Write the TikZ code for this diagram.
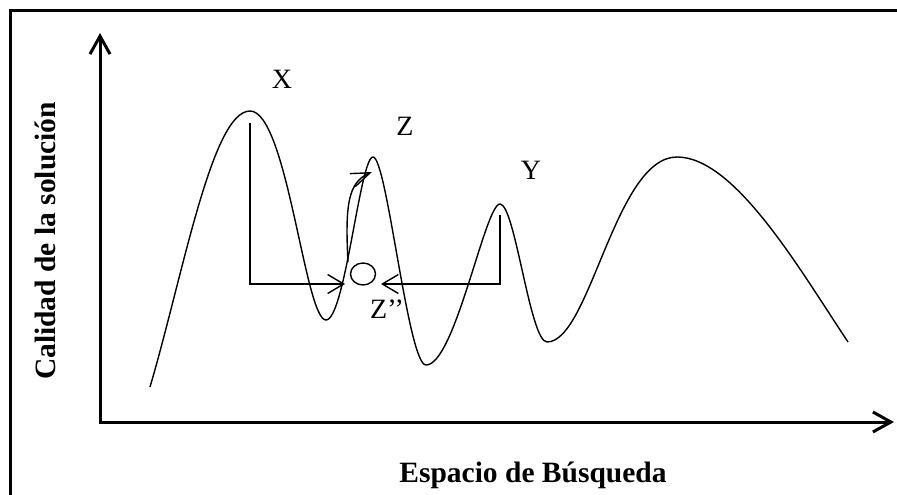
\documentclass[tikz,border=0pt]{standalone}
\usepackage{fontspec}
\setmainfont{Liberation Serif}
\usetikzlibrary{arrows.meta,shapes.geometric}
\begin{document}
\begin{tikzpicture}[x=1pt,y=-1pt,
  frameline/.style={line width=2.5pt},
  axisline/.style={line width=3pt,-{Straight Barb[length=18pt,width=20pt]}},
  thinline/.style={line width=1.4pt},
  barb/.style={thinline,-{Straight Barb[length=16pt,width=19pt]}},
  ptlabel/.style={font=\fontsize{28}{30}\selectfont,inner sep=0pt},
  axlabel/.style={font=\fontsize{29.5}{31}\selectfont\bfseries,inner sep=0pt}]
\useasboundingbox (0,0) rectangle (897,495);
% frame
\coordinate (fTR) at (897,10.5);
\coordinate (fTL) at (10.5,10.5);
\coordinate (fBL) at (10.5,495);
\draw[frameline] (fTR) -- (fTL) -- (fBL);
% axes
\coordinate (O) at (100,422);
\coordinate (Ytip) at (100,33);
\coordinate (Xtip) at (894,422);
\draw[axisline] (O) -- (Ytip);
\draw[axisline] ([xshift=-1.5pt]O) -- (Xtip);
% axis labels
\node[axlabel,rotate=90,anchor=base] (ylab) at (55,241) {Calidad de la solución};
\node[axlabel,anchor=base] (xlab) at (533,482) {Espacio de Búsqueda};
% landscape
\coordinate (s0) at (150,387);
\coordinate (pX) at (250,111);
\coordinate (t1) at (326,320);
\coordinate (pZ) at (373,157);
\coordinate (t2) at (426,365);
\coordinate (pY) at (500,204);
\coordinate (t3) at (547,342);
\coordinate (pB) at (677,157);
\coordinate (e0) at (848,342);
\draw[thinline] (s0) .. controls (183,275) and (212,111) .. (pX)
  .. controls (287,111) and (305,320) .. (t1)
  .. controls (345,320) and (360,157) .. (pZ)
  .. controls (387,157) and (408,365) .. (t2)
  .. controls (455,365) and (485,204) .. (pY)
  .. controls (515,204) and (530,342) .. (t3)
  .. controls (590,342) and (615,157) .. (pB)
  .. controls (735,157) and (800,270) .. (e0);
% labels
\node[ptlabel] (X) at (282,79) {X};
\node[ptlabel] (Z) at (405,126) {Z};
\node[ptlabel] (Y) at (531,170) {Y};
\node[ptlabel] (Zpp) at (387,309) {Z’’};
% circle
\node[draw,thinline,ellipse,minimum width=25pt,minimum height=22pt,inner sep=0pt] (c) at (363,274) {};
% moves
\coordinate (xa) at (250,123);
\coordinate (xb) at (250,284);
\coordinate (xt) at (345,284);
\draw[barb] (xa) -- (xb) -- (xt);
\coordinate (ya) at (500,215);
\coordinate (yb) at (500,284);
\coordinate (yt) at (381,284);
\draw[barb] (ya) -- (yb) -- (yt);
\coordinate (za) at (348,262);
\coordinate (zt) at (372,172);
\draw[thinline,-{Straight Barb[length=19pt,width=14pt]}] (za) .. controls (345,205) and (348,182) .. (zt);
\end{tikzpicture}
\end{document}
